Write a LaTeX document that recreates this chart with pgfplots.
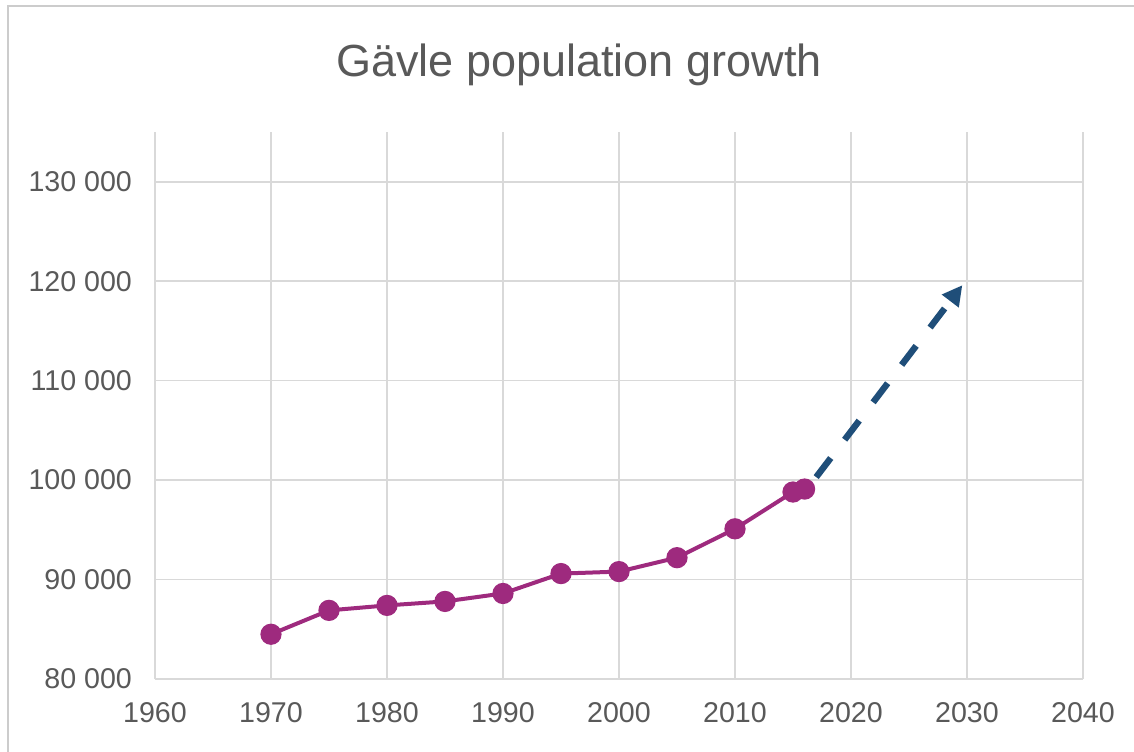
\documentclass[border=0pt]{standalone}
\usepackage{pgfplots}
\pgfplotsset{compat=1.18}
\usepackage{fontspec}
\setmainfont{Liberation Sans}
\usetikzlibrary{arrows.meta}
\definecolor{txt}{HTML}{595959}
\definecolor{gridc}{HTML}{D9D9D9}
\definecolor{linec}{HTML}{9E2A7E}
\definecolor{arrowc}{HTML}{1F4E79}
\begin{document}
\begin{tikzpicture}
\path[use as bounding box] (0,0) rectangle (567pt,375.5pt);
\draw[color=gridc!85!gray, line width=1pt] (4pt,-2pt) -- (4pt,372.5pt) -- (570pt,372.5pt);
\node[text=txt, font=\fontsize{22.5}{26}\selectfont, anchor=center] at (289.5pt,343pt) {Gävle population growth};
\begin{axis}[
  at={(77.5pt,36pt)}, anchor=south west,
  scale only axis, width=464pt, height=273.5pt,
  xmin=1960, xmax=2040, ymin=80000, ymax=135000,
  scaled y ticks=false,
  xtick={1960,1970,...,2040},
  xticklabels={1960,1970,1980,1990,2000,2010,2020,2030,2040},
  ytick={80000,90000,...,130000},
  yticklabels={80 000,90 000,100 000,110 000,120 000,130 000},
  grid=major, major grid style={gridc, line width=0.8pt},
  axis line style={draw=none},
  major tick length=0pt,
  tick label style={text=txt, font=\fontsize{14.3}{17}\selectfont},
  xticklabel style={yshift=-8pt},
  yticklabel style={xshift=-8pt},
  clip=false,
]
\addplot[linec, line width=2pt, mark=*, mark size=4.3pt, mark options={fill=linec, draw=linec}]
coordinates {
(1970,84500) (1975,86900) (1980,87400) (1985,87800) (1990,88600)
(1995,90600) (2000,90800) (2005,92200) (2010,95100) (2015,98800) (2016,99100)
};
\addplot[arrowc, line width=3.2pt, dash pattern=on 12pt off 11.5pt, -{Triangle[length=10pt,width=10pt]}]
coordinates {(2017,100300) (2029.6,119600)};
\end{axis}
\end{tikzpicture}
\end{document}
